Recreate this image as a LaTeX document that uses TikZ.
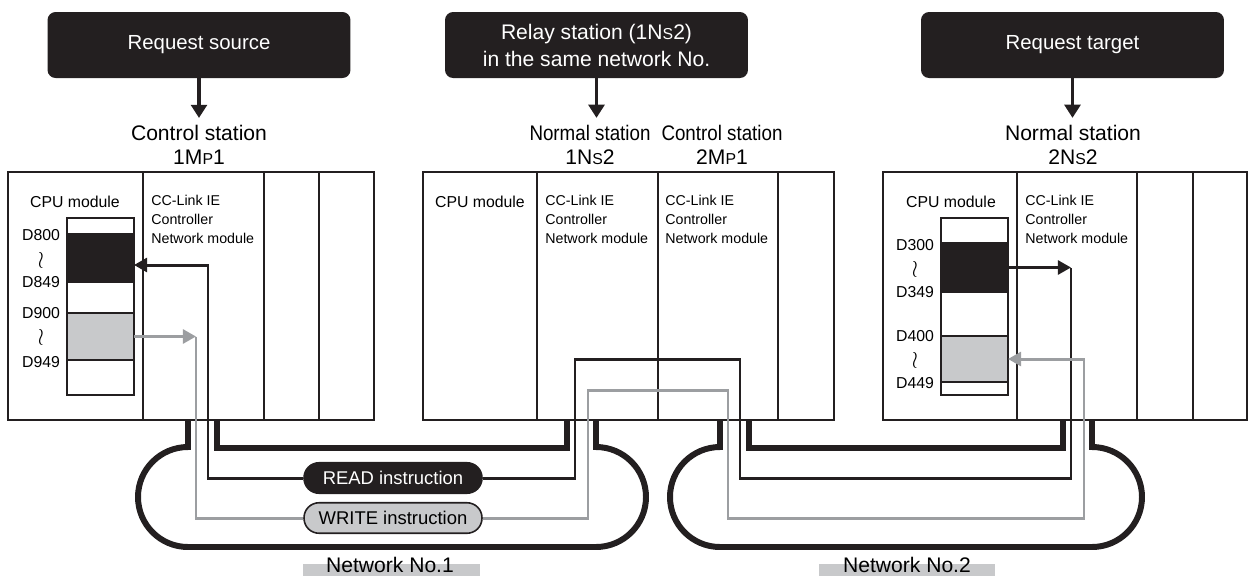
\documentclass[tikz,border=0pt]{standalone}
\usepackage{fontspec}
\setmainfont{Liberation Sans}
\usetikzlibrary{arrows.meta, positioning}
\definecolor{ink}{HTML}{231F20}
\definecolor{wgray}{HTML}{9C9EA1}
\definecolor{lgray}{HTML}{C8C9CB}
\newcommand{\smcap}[1]{\scalebox{0.75}{#1}}
\newcommand{\narrow}[1]{\scalebox{0.89}[1]{#1}}
\tikzstyle{titlebox} = [
    rectangle,
    rounded corners=0.16cm,
    fill=ink,
    text=white,
    minimum width=6.06cm,
    minimum height=1.32cm,
    align=center,
    font=\fontsize{11.6}{15.4}\selectfont
]
\tikzstyle{stlabel} = [
    align=center,
    inner sep=4pt,
    font=\fontsize{12}{13.7}\selectfont
]
\tikzstyle{modtext} = [
    align=left,
    anchor=north west,
    inner sep=0pt,
    font=\fontsize{8.1}{10.8}\selectfont
]
\tikzstyle{cputext} = [inner sep=0pt, font=\fontsize{9}{10}\selectfont]
\tikzstyle{memlabel} = [inner sep=0pt, font=\fontsize{9}{10}\selectfont]
\tikzstyle{wave} = [
    inner sep=0pt,
    text height=7.5pt,
    text depth=0pt,
    font=\fontsize{11}{11}\selectfont
]
\tikzstyle{readblk} = [
    rectangle,
    fill=ink,
    draw=ink,
    line width=0.8pt,
    inner sep=0pt,
    outer sep=0pt,
    minimum width=1.34cm
]
\tikzstyle{writeblk} = [
    rectangle,
    fill=lgray,
    draw=ink,
    line width=0.8pt,
    inner sep=0pt,
    outer sep=0pt,
    minimum width=1.34cm
]
\tikzstyle{instr} = [
    rectangle,
    rounded corners=0.3cm,
    minimum width=3.56cm,
    minimum height=0.61cm,
    inner sep=0pt,
    line width=0.9pt,
    font=\fontsize{10.5}{12}\selectfont
]
\tikzstyle{panel} = [draw=ink, line width=1.1pt]
\tikzstyle{memcol} = [draw=ink, line width=0.85pt]
\tikzstyle{cable} = [draw=ink, line width=3.4pt]
\tikzstyle{readline} = [draw=ink, line width=1.7pt]
\tikzstyle{writeline} = [draw=wgray, line width=1.7pt]
\tikzstyle{titlearrow} = [draw=ink, line width=2pt, -{Triangle[length=7.5pt, width=9pt]}]
\tikzstyle{readarrow} = [readline, -{Triangle[length=7.5pt, width=8pt]}]
\tikzstyle{writearrow} = [writeline, -{Triangle[length=7.5pt, width=8pt]}]
\tikzstyle{netbar} = [fill=lgray]

\begin{document}
\begin{tikzpicture}[x=0.02cm, y=-0.02cm]
\useasboundingbox (0,0) rectangle (1249,576);

% title boxes
\node (src) [titlebox] at (199,45) {Request source};
\node (relay) [titlebox, font=\fontsize{12}{15.4}\selectfont] at (596.5,45)
{Relay station (1N\smcap{S}2)\\in the same network No.};
\node (tgt) [titlebox] at (1072.5,45) {Request target};

% station labels
\node (lab1) [stlabel] at (199,145) {Control station\\1M\smcap{P}1};
\node (lab2) [stlabel] at (590,145) {\narrow{Normal station}\\1N\smcap{S}2};
\node (lab3) [stlabel] at (722,145) {\narrow{Control station}\\2M\smcap{P}1};
\node (lab4) [stlabel] at (1073,145) {Normal station\\2N\smcap{S}2};

\draw [titlearrow] (src.south) -- (src.south |- lab1.north);
\draw [titlearrow] (relay.south) -- (relay.south |- lab2.north);
\draw [titlearrow] (tgt.south) -- (tgt.south |- lab4.north);

% station panels
\draw [panel] (8,172) rectangle (374,420);
\foreach \x in {143,264,319} \draw [panel] (\x,172) -- (\x,420);
\draw [panel] (423,172) rectangle (834,420);
\foreach \x in {537,658,778} \draw [panel] (\x,172) -- (\x,420);
\draw [panel] (883,172) rectangle (1247,420);
\foreach \x in {1017,1137,1193} \draw [panel] (\x,172) -- (\x,420);

% module texts
\node (cpu1) [cputext] at (75,202) {CPU module};
\node (cpu2) [cputext] at (480,202) {CPU module};
\node (cpu3) [cputext] at (951,202) {CPU module};
\node (cc1) [modtext] at (151,195) {CC-Link IE\\Controller\\Network module};
\node (cc2) [modtext] at (545,195) {CC-Link IE\\Controller\\Network module};
\node (cc3) [modtext] at (665,195) {CC-Link IE\\Controller\\Network module};
\node (cc4) [modtext] at (1025,195) {CC-Link IE\\Controller\\Network module};

% device memory
\draw [memcol] (67,218) rectangle (134,395);
\node (rdS) [readblk, minimum height=0.96cm] at (100.5,258) {};
\node (wrS) [writeblk, minimum height=0.94cm] at (100.5,336.5) {};
\draw [memcol] (941,218) rectangle (1008,395);
\node (rdT) [readblk, minimum height=0.98cm] at (974.5,267.5) {};
\node (wrT) [writeblk, minimum height=0.92cm] at (974.5,359) {};

\foreach \t/\y [count=\i] in {D800/235, D849/282, D900/313, D949/362}
    \node (devS\i) [memlabel] at (41,\y) {\t};
\foreach \y [count=\i] in {260,337}
    \node (waveS\i) [wave] at (41,\y) {\scalebox{1.15}[1.25]{$\wr$}};
\foreach \t/\y [count=\i] in {D300/245, D349/292, D400/336, D449/383}
    \node (devT\i) [memlabel] at (915,\y) {\t};
\foreach \y [count=\i] in {269,360}
    \node (waveT\i) [wave] at (915,\y) {\scalebox{1.15}[1.25]{$\wr$}};

% network cables
\coordinate (n1a) at (188,420);
\coordinate (n1b) at (217,420);
\coordinate (n2a) at (567,420);
\coordinate (n2b) at (596,420);
\coordinate (n3a) at (720,420);
\coordinate (n3b) at (749,420);
\coordinate (n4a) at (1063,420);
\coordinate (n4b) at (1092,420);
\draw [cable] (n1b) -- ++(0,28) -| (n2a);
\draw [cable] (n1a) -- (188,447) arc[start angle=270, end angle=90, radius=50]
    -- (596,547) arc[start angle=90, end angle=-90, radius=50] -- (n2b);
\draw [cable] (n3b) -- ++(0,28) -| (n4a);
\draw [cable] (n3a) -- (720,447) arc[start angle=270, end angle=90, radius=50]
    -- (1092,547) arc[start angle=90, end angle=-90, radius=50] -- (n4b);

% instructions
\node (read) [instr, fill=ink, draw=ink, text=white] at (393,478) {READ instruction};
\node (write) [instr, fill=lgray, draw=ink] at (393,518) {WRITE instruction};

\coordinate (r1) at (208,265);
\coordinate (rl) at (575,359);
\coordinate (rr) at (740,359);
\coordinate (r3) at (1071,267.5);
\draw [readarrow] (read.west) -| (r1) -- (r1 -| rdS.east);
\draw [readline] (read.east) -| (rl) -- (rr) -- (rr |- read.east) -| (r3);
\draw [readarrow] (rdT.east) -- (r3);

\coordinate (w1) at (196,336.5);
\coordinate (wl) at (588,390);
\coordinate (wr) at (728,390);
\coordinate (w3) at (1084,359);
\draw [writearrow] (wrS.east) -- (w1);
\draw [writeline] (w1) |- (write.west);
\draw [writearrow] (write.east) -| (wl) -- (wr) -- (wr |- write.east) -| (w3) -- (wrT.east);

% network names
\fill [netbar] (303,564) rectangle (480,576);
\node (net1) at (390,565) [font=\fontsize{12}{12}\selectfont, inner sep=0pt] {Network No.1};
\fill [netbar] (819,564) rectangle (995,576);
\node (net2) at (907,565) [font=\fontsize{12}{12}\selectfont, inner sep=0pt] {Network No.2};

\end{tikzpicture}
\end{document}
